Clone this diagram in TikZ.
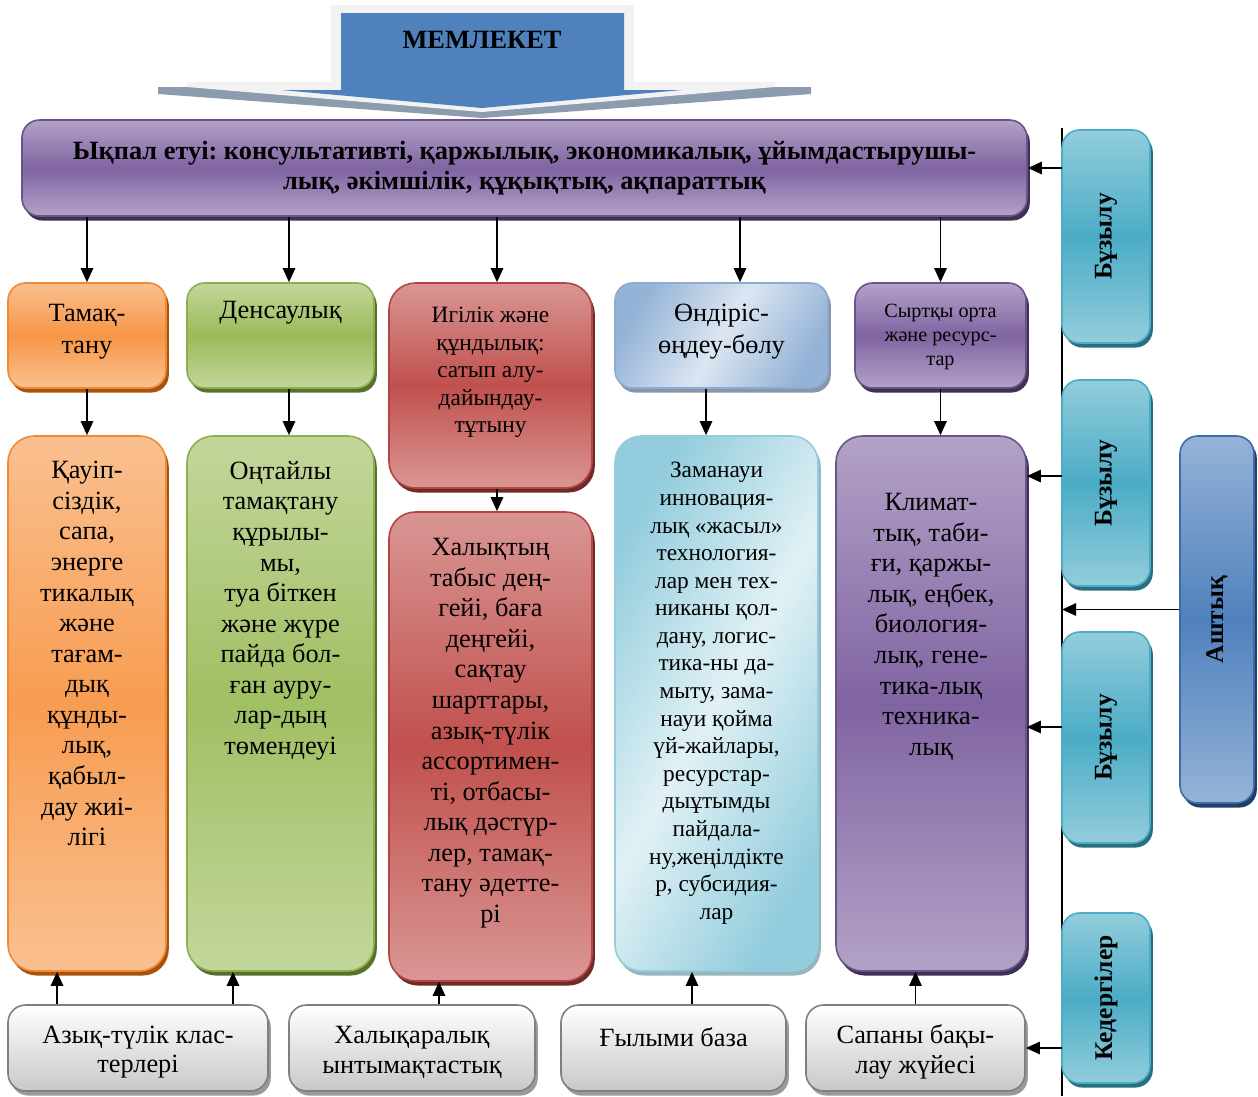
\documentclass[tikz,border=0pt]{standalone}
\usepackage{fontspec}
\setmainfont{Liberation Serif}
\usetikzlibrary{fit,shadows,arrows.meta}
\frenchspacing

\definecolor{orgM}{HTML}{F79646}
\definecolor{orgL}{HTML}{FAC090}
\definecolor{orgB}{HTML}{F08A36}
\definecolor{orgD}{HTML}{A9520C}
\definecolor{grnM}{HTML}{9BBB59}
\definecolor{grnL}{HTML}{C3D69B}
\definecolor{grnB}{HTML}{8DAE4D}
\definecolor{grnD}{HTML}{56702E}
\definecolor{redM}{HTML}{C0504D}
\definecolor{redL}{HTML}{D99694}
\definecolor{redB}{HTML}{B5443F}
\definecolor{redD}{HTML}{6E2B29}
\definecolor{bluM}{HTML}{95B3D7}
\definecolor{bluL}{HTML}{DCE6F2}
\definecolor{bluB}{HTML}{8CAAD2}
\definecolor{bluD}{HTML}{8796AA}
\definecolor{cyaM}{HTML}{93CDDD}
\definecolor{cyaL}{HTML}{E1F1F5}
\definecolor{cyaD}{HTML}{9AB4BD}
\definecolor{purM}{HTML}{8064A2}
\definecolor{purL}{HTML}{B3A2C7}
\definecolor{purB}{HTML}{6B528D}
\definecolor{purD}{HTML}{3F3151}
\definecolor{sidM}{HTML}{4BACC6}
\definecolor{sidL}{HTML}{92CDDC}
\definecolor{sidD}{HTML}{2A6E80}
\definecolor{ashM}{HTML}{4F81BD}
\definecolor{ashL}{HTML}{95B3D7}
\definecolor{ashB}{HTML}{3E6BA3}
\definecolor{ashD}{HTML}{1F3F66}
\definecolor{gryB}{HTML}{C8C8C8}
\definecolor{gryD}{HTML}{7F7F7F}
\definecolor{gryS}{HTML}{9A9A9A}
\definecolor{memB}{HTML}{4F81BD}
\definecolor{memG}{HTML}{8C9CAE}
\definecolor{memW}{HTML}{F2F2F2}

\begin{document}
\begin{tikzpicture}[x=0.02cm, y=-0.02cm,
    box/.style={inner sep=0pt, rounded corners=10pt, line width=0.9pt},
    tall/.style={box, rounded corners=15pt},
    shade3/.style n args={3}{top color=#1, bottom color=#1, middle color=#2, draw=#3},
    shad/.style={general shadow={fill=#1, shadow xshift=1.6pt, shadow yshift=-2.6pt}},
    gray box/.style={box, top color=white, bottom color=gryB, draw=gryD, shad=gryS},
    big/.style={font=\fontsize{15}{17.4}\selectfont, align=center, inner sep=0pt},
    smalltxt/.style={font=\fontsize{13.3}{15.7}\selectfont, align=center, inner sep=0pt},
    side/.style={font=\bfseries\fontsize{14.5}{17}\selectfont, rotate=90, inner sep=0pt},
    arr/.style={-{Triangle[length=8pt, width=7pt]}, line width=1.1pt}]

    \fill[white] (0,0) rectangle (1258,1096);
    \useasboundingbox (0,0) rectangle (1258,1096);

    % state arrow
    \fill[memG] (158,87) -- (811,87) -- (811,94) -- (482,118) -- (158,94) -- cycle;
    \fill[memW] (331,5) -- (634,5) -- (634,82) -- (775,82) -- (775,87) -- (482,112) -- (187,87) -- (187,82) -- (331,82) -- cycle;
    \fill[memB] (341,13) -- (624,13) -- (624,90) -- (682,90) -- (482,108) -- (281,90) -- (341,90) -- cycle;
    \node[font=\bfseries\fontsize{15}{18}\selectfont] (mem) at (482,40) {МЕМЛЕКЕТ};

    % influence
    \node[box, shade3={purL}{purM}{purB}, shad=purD, fit={(22,120) (1027,216)}] (infl) {};
    \node[font=\bfseries\fontsize{15}{17}\selectfont, align=center, inner sep=0pt] (tinfl) at (524.5,168)
        {Ықпал етуі: консультативті, қаржылық, экономикалық, ұйымдастырушы-\\лық, әкімшілік, құқықтық, ақпараттық};

    % second row
    \node[box, shade3={orgL}{orgM}{orgB}, shad=orgD, fit={(8,283) (166,388)}] (tam) {};
    \node[big, font=\fontsize{15}{18}\selectfont] (ttam) at (87,332) {Тамақ-\\тану};
    \node[box, shade3={grnL}{grnM}{grnB}, shad=grnD, fit={(187,283) (374,388)}] (den) {};
    \node[big] (tden) at (280.5,313) {Денсаулық};
    \node[tall, shade3={redL}{redM}{redB}, shad=redD, fit={(389,283) (592,488)}] (igi) {};
    \node[smalltxt] (tigi) at (490.5,372.5) {Игілік және\\құндылық:\\сатып алу-\\дайындау-\\тұтыну};
    \node[box, left color=bluM, right color=bluM, middle color=bluL, shading angle=60, draw=bluB,
        shad=bluD, fit={(615,283) (828,388)}] (ond) {};
    \node[big, font=\fontsize{15}{18}\selectfont] (tond) at (721.5,331.5) {Өндіріс-\\өңдеу-бөлу};
    \node[box, shade3={purL}{purM}{purB}, shad=purD, fit={(855,283) (1026,388)}] (syrt) {};
    \node[font=\fontsize{11.5}{13.9}\selectfont, align=center, inner sep=0pt] (tsyrt) at (940.5,337) {Сыртқы орта\\және ресурс-\\тар};

    % third row
    \node[tall, shade3={orgL}{orgM!85!orgL}{orgB}, shad=orgD, fit={(8,436) (166,971)}] (kau) {};
    \node[big, anchor=north] (tkau) at (87,461) {Қауіп-\\сіздік,\\сапа,\\энерге\\тикалық\\және\\тағам-\\дық\\құнды-\\лық,\\қабыл-\\дау жиі-\\лігі};
    \node[tall, shade3={grnL}{grnM!85!grnL}{grnB}, shad=grnD, fit={(187,436) (374,971)}] (ont) {};
    \node[big, anchor=north] (tont) at (280.5,461) {Оңтайлы\\тамақтану\\құрылы-\\мы,\\туа біткен\\және жүре\\пайда бол-\\ған ауру-\\лар-дың\\төмендеуі};
    \node[tall, shade3={redL}{redM}{redB}, shad=redD, fit={(389,512) (592,981)}] (hal) {};
    \node[big, anchor=north] (thal) at (490.5,538) {Халықтың\\табыс дең-\\гейі, баға\\деңгейі,\\сақтау\\шарттары,\\азық-түлік\\ассортимен-\\ті, отбасы-\\лық дәстүр-\\лер, тамақ-\\тану әдетте-\\рі};
    \node[tall, left color=cyaM, right color=cyaM, middle color=cyaL, shading angle=60, draw=cyaM,
        shad=cyaD, fit={(615,436) (818,971)}] (zam) {};
    \node[smalltxt, anchor=north] (tzam) at (716.5,462) {Заманауи\\инновация-\\лық «жасыл»\\технология-\\лар мен тех-\\никаны қол-\\дану, логис-\\тика-ны да-\\мыту, зама-\\науи қойма\\үй-жайлары,\\ресурстар-\\дыұтымды\\пайдала-\\ну,жеңілдікте\\р, субсидия-\\лар};
    \node[tall, shade3={purL}{purM}{purB}, shad=purD, fit={(836,436) (1026,971)}] (klim) {};
    \node[big, anchor=north] (tklim) at (931,493) {Климат-\\тық, таби-\\ғи, қаржы-\\лық, еңбек,\\биология-\\лық, гене-\\тика-лық\\техника-\\лық};

    % bottom row
    \node[gray box, fit={(8,1005) (268,1091)}] (azyk) {};
    \node[big, font=\fontsize{15}{17}\selectfont] (tazyk) at (138,1052) {Азық-түлік клас-\\терлері};
    \node[gray box, fit={(289,1005) (535,1091)}] (hint) {};
    \node[big, font=\fontsize{15}{17}\selectfont] (thint) at (412,1052) {Халықаралық\\ынтымақтастық};
    \node[gray box, fit={(561,1005) (786,1091)}] (gyl) {};
    \node[big] (tgyl) at (673.5,1037) {Ғылыми база};
    \node[gray box, fit={(806,1005) (1025,1091)}] (sap) {};
    \node[big, font=\fontsize{15}{17}\selectfont] (tsap) at (915.5,1052) {Сапаны бақы-\\лау жүйесі};

    % right side
    \coordinate (lt) at (1062,128);
    \coordinate (lb) at (1062,1096);
    \draw[line width=1.1pt] (lt) -- (lb);
    \node[box, shade3={sidL}{sidM}{sidM}, shad=sidD, fit={(1062,130) (1150,343)}] (buz1) {};
    \node[side] (tbuz1) at (buz1.center) {Бұзылу};
    \node[box, shade3={sidL}{sidM}{sidM}, shad=sidD, fit={(1062,380) (1150,586)}] (buz2) {};
    \node[side] (tbuz2) at (buz2.center) {Бұзылу};
    \node[box, shade3={sidL}{sidM}{sidM}, shad=sidD, fit={(1062,632) (1150,843)}] (buz3) {};
    \node[side] (tbuz3) at (buz3.center) {Бұзылу};
    \node[box, shade3={sidL}{sidM}{sidM}, shad=sidD, fit={(1062,913) (1150,1083)}] (ked) {};
    \node[side] (tked) at (ked.center) {Кедергілер};
    \node[box, shade3={ashL}{ashM}{ashB}, shad=ashD, fit={(1180,436) (1254,803)}] (ash) {};
    \node[side] (tash) at (ash.center) {Аштық};

    % arrows down
    \draw[arr] (infl.south -| tam.north) -- (tam.north);
    \draw[arr] ([xshift=0.17cm]infl.south -| den.north) -- ([xshift=0.17cm]den.north);
    \draw[arr] ([xshift=0.13cm]infl.south -| igi.north) -- ([xshift=0.13cm]igi.north);
    \draw[arr] ([xshift=0.37cm]infl.south -| ond.north) -- ([xshift=0.37cm]ond.north);
    \draw[arr] (infl.south -| syrt.north) -- (syrt.north);

    \draw[arr] (tam.south) -- (kau.north);
    \draw[arr] ([xshift=0.17cm]den.south) -- ([xshift=0.17cm]ont.north);
    \draw[arr] ([xshift=0.13cm]igi.south) -- ([xshift=0.13cm]hal.north);
    \draw[arr] ([xshift=-0.21cm]zam.north |- ond.south) -- ([xshift=-0.21cm]zam.north);
    \draw[arr] (syrt.south) -- (syrt.south |- klim.north);

    % arrows up
    \draw[arr] ([xshift=-1.62cm]azyk.north) -- ([xshift=-1.62cm]azyk.north |- kau.south);
    \draw[arr] ([xshift=1.9cm]azyk.north) -- ([xshift=1.9cm]azyk.north |- ont.south);
    \draw[arr] ([xshift=0.54cm]hint.north) -- ([xshift=0.54cm]hint.north |- hal.south);
    \draw[arr] ([xshift=0.37cm]gyl.north) -- ([xshift=0.37cm]gyl.north |- zam.south);
    \draw[arr] (sap.north) -- (sap.north |- klim.south);

    % arrows from the side line
    \draw[arr] (lt |- infl.east) -- (infl.east);
    \draw[arr] ([yshift=4.55cm]lt |- klim.east) -- ([yshift=4.55cm]klim.east);
    \draw[arr] ([yshift=-0.47cm]lt |- klim.east) -- ([yshift=-0.47cm]klim.east);
    \draw[arr] ([yshift=0.2cm]ash.west) -- ([yshift=0.2cm]ash.west -| lt);
    \draw[arr] (lt |- sap.east) -- (sap.east);
\end{tikzpicture}
\end{document}
